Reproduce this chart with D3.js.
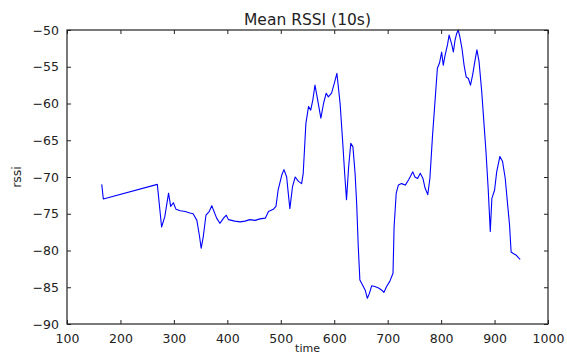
<!DOCTYPE html>
<html>
<head>
<meta charset="utf-8">
<script src="https://cdn.jsdelivr.net/npm/d3@7"></script>
<style>
  html, body { margin: 0; padding: 0; background: #fff; }
  svg { display: block; font-family: "DejaVu Sans", sans-serif; }
</style>
</head>
<body>
<svg id="chart" width="567" height="354"></svg>
<script>
// Mean RSSI over a 10 s window, sampled against time (s)
const times = [
  165, 168, 269, 277, 283, 290, 294, 299, 304, 312, 321, 330, 336, 343, 348, 351, 355,
  360, 366, 371, 374, 380, 386, 393, 398, 402, 408, 414, 424, 433, 442, 452, 461, 471,
  477, 486, 491, 495, 502, 506, 511, 514, 517, 522, 527, 533, 539, 542, 547, 552, 556,
  560, 564, 568, 575, 580, 585, 589, 595, 600, 605, 611, 616, 620, 623, 627, 631, 635,
  639, 642, 645, 648, 653, 658, 662, 666, 670, 676, 683, 689, 693, 698, 704, 710, 712,
  716, 720, 726, 733, 739, 742, 747, 751, 756, 761, 766, 770, 775, 779, 784, 789, 793,
  797, 801, 804, 807, 812, 815, 820, 823, 826, 829, 832, 835, 839, 843, 847, 851, 855,
  859, 864, 867, 871, 876, 880, 884, 888, 892, 895, 900, 904, 910, 915, 920, 924, 928,
  931, 935, 940, 945, 948
];
const rssi = [
  -71.0, -73.0, -71.0, -76.8, -75.4, -72.2, -74.0, -73.5, -74.4, -74.6, -74.7, -74.9, -75.0, -75.9, -78.1, -79.7, -78.1,
  -75.2, -74.7, -73.9, -74.5, -75.6, -76.3, -75.6, -75.2, -75.8, -75.9, -76.0, -76.1, -76.0, -75.8, -75.9, -75.7, -75.6,
  -74.7, -74.4, -74.0, -71.8, -69.7, -69.0, -70.0, -72.2, -74.3, -71.3, -70.0, -70.6, -70.9, -69.5, -62.7, -60.4, -60.9,
  -59.5, -57.5, -59.1, -62.0, -60.0, -58.6, -59.1, -58.6, -57.3, -55.9, -60.0, -65.4, -70.0, -73.1, -68.6, -65.4, -65.9,
  -69.5, -73.6, -79.5, -84.0, -84.7, -85.4, -86.5, -85.8, -84.8, -84.9, -85.1, -85.4, -85.7, -84.9, -84.2, -83.1, -76.8,
  -72.2, -71.1, -70.9, -71.1, -70.4, -70.0, -69.3, -70.0, -70.2, -69.5, -70.2, -71.5, -72.4, -70.2, -64.3, -59.3, -55.2,
  -54.5, -53.0, -54.8, -53.6, -52.0, -50.7, -52.0, -53.0, -51.4, -50.5, -50.0, -50.9, -52.5, -54.8, -56.4, -56.6, -57.5,
  -56.1, -53.9, -52.7, -54.3, -58.4, -62.5, -66.6, -71.5, -77.4, -72.9, -71.8, -69.3, -67.2, -67.9, -70.2, -73.4, -76.5,
  -80.2, -80.4, -80.6, -81.0, -81.2
];
const xTicks = [100, 200, 300, 400, 500, 600, 700, 800, 900, 1000];
const yTicks = [-90, -85, -80, -75, -70, -65, -60, -55, -50];
const titleText = "Mean RSSI (10s)";
const xLabel = "time";
const yLabel = "rssi";

const W = 567, H = 354;
const plot = { left: 67, top: 30, right: 548, bottom: 324 };

const svg = d3.select("#chart");

const x = d3.scaleLinear().domain([100, 1000]).range([plot.left, plot.right]);
const y = d3.scaleLinear().domain([-90, -50]).range([plot.bottom, plot.top]);

const fmt = d3.format("d");
const tickLen = 4;
const axisColor = "#222";
const fontSize = 12.5;

// Ticks point inward on all four sides
function styleAxis(g) {
  g.select(".domain").remove();
  g.selectAll(".tick line").attr("stroke", axisColor).attr("stroke-width", 1);
  g.selectAll(".tick text").attr("fill", "#222").style("font-size", fontSize + "px")
    .style("font-family", "'DejaVu Sans', sans-serif");
}

svg.append("g")
  .attr("transform", `translate(0,${plot.bottom})`)
  .call(d3.axisBottom(x).tickValues(xTicks).tickFormat(fmt).tickSizeInner(-tickLen).tickSizeOuter(0).tickPadding(10))
  .call(styleAxis);

svg.append("g")
  .attr("transform", `translate(0,${plot.top})`)
  .call(d3.axisTop(x).tickValues(xTicks).tickFormat("").tickSizeInner(-tickLen).tickSizeOuter(0))
  .call(styleAxis);

svg.append("g")
  .attr("transform", `translate(${plot.left},0)`)
  .call(d3.axisLeft(y).tickValues(yTicks).tickFormat(fmt).tickSizeInner(-tickLen).tickSizeOuter(0).tickPadding(8))
  .call(styleAxis);

svg.append("g")
  .attr("transform", `translate(${plot.right},0)`)
  .call(d3.axisRight(y).tickValues(yTicks).tickFormat("").tickSizeInner(-tickLen).tickSizeOuter(0))
  .call(styleAxis);

// Data line
const line = d3.line().x((d, i) => x(times[i])).y(d => y(d));
svg.append("path")
  .datum(rssi)
  .attr("fill", "none")
  .attr("stroke", "#0000ff")
  .attr("stroke-width", 1.1)
  .attr("stroke-linejoin", "round")
  .attr("d", line);

// Axes frame
svg.append("rect")
  .attr("x", plot.left).attr("y", plot.top)
  .attr("width", plot.right - plot.left).attr("height", plot.bottom - plot.top)
  .attr("fill", "none").attr("stroke", axisColor).attr("stroke-width", 1.2);

// Title and axis labels
svg.append("text")
  .attr("x", (plot.left + plot.right) / 2).attr("y", 25)
  .attr("text-anchor", "middle")
  .style("font-size", "15.5px").attr("fill", "#222")
  .text(titleText);

svg.append("text")
  .attr("x", (plot.left + plot.right) / 2).attr("y", 352)
  .attr("text-anchor", "middle")
  .style("font-size", "11px").attr("fill", "#222")
  .text(xLabel);

svg.append("text")
  .attr("transform", `translate(21,${(plot.top + plot.bottom) / 2}) rotate(-90)`)
  .attr("text-anchor", "middle")
  .style("font-size", fontSize + "px").attr("fill", "#222")
  .text(yLabel);
</script>
</body>
</html>
